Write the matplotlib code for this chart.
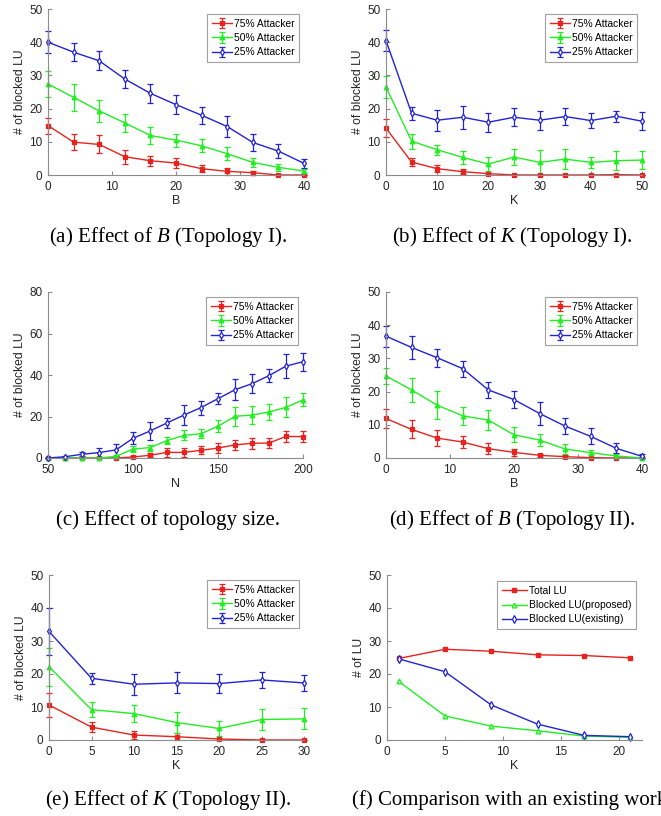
import matplotlib
matplotlib.use("Agg")
import matplotlib.pyplot as plt

plt.rcParams['font.family'] = ['Liberation Sans', 'DejaVu Sans']
plt.rcParams['mathtext.fontset'] = 'custom'
plt.rcParams['mathtext.rm'] = 'Liberation Serif'
plt.rcParams['mathtext.it'] = 'Liberation Serif:italic'

# ---------------- data ----------------
labels_att = ["75% Attacker", "50% Attacker", "25% Attacker"]

# (a) Effect of B (Topology I)
a_x = [0, 4, 8, 12, 16, 20, 24, 28, 32, 36, 40]
a_75 = [14.9, 9.9, 9.2, 5.5, 4.3, 3.6, 1.9, 1.1, 0.7, 0.0, 0.0]
a_75e = [2.4, 2.3, 2.7, 2.1, 1.5, 1.4, 1.0, 1.0, 0.6, 0.1, 0.1]
a_50 = [27.4, 23.4, 19.3, 15.7, 11.9, 10.5, 8.8, 6.4, 3.8, 2.3, 1.2]
a_50e = [3.9, 4.0, 3.4, 2.7, 2.5, 2.0, 2.0, 2.0, 1.4, 1.0, 0.6]
a_25 = [40.0, 37.0, 34.4, 28.9, 24.6, 21.2, 18.0, 14.6, 9.8, 7.2, 3.5]
a_25e = [3.4, 2.7, 2.8, 2.8, 2.8, 2.9, 2.6, 3.1, 2.6, 2.1, 1.3]

# (b) Effect of K (Topology I)
b_x = [0, 5, 10, 15, 20, 25, 30, 35, 40, 45, 50]
b_75 = [14.1, 3.9, 1.9, 1.0, 0.4, 0.0, 0.0, 0.0, 0.0, 0.1, 0.0]
b_75e = [2.8, 1.3, 1.1, 0.8, 0.3, 0.1, 0.1, 0.1, 0.1, 0.2, 0.1]
b_50 = [26.5, 10.2, 7.6, 5.3, 3.3, 5.4, 3.8, 4.8, 3.8, 4.3, 4.5]
b_50e = [3.3, 2.3, 1.5, 1.9, 2.1, 2.5, 3.8, 2.9, 1.7, 2.9, 2.7]
b_25 = [40.5, 18.6, 16.5, 17.4, 15.9, 17.4, 16.5, 17.6, 16.4, 17.7, 16.2]
b_25e = [3.2, 2.0, 3.2, 3.4, 2.9, 2.7, 2.8, 2.6, 2.2, 1.7, 2.7]

# (c) Effect of topology size
c_x = [50, 60, 70, 80, 90, 100, 110, 120, 130, 140, 150, 160, 170, 180, 190, 200]
c_75 = [0.0, 0.0, 0.0, 0.0, 0.0, 0.5, 1.3, 2.7, 2.7, 3.7, 4.8, 6.3, 7.1, 7.2, 10.4, 10.3]
c_75e = [0.0, 0.0, 0.0, 0.0, 0.1, 0.4, 0.9, 2.0, 2.0, 2.0, 2.2, 2.6, 2.6, 2.6, 2.5, 2.5]
c_50 = [0.0, 0.0, 0.0, 0.0, 0.8, 4.3, 5.0, 8.4, 10.9, 11.7, 15.3, 20.1, 20.7, 22.2, 24.4, 28.0]
c_50e = [0.0, 0.0, 0.1, 0.1, 0.8, 1.6, 1.5, 1.8, 2.4, 2.3, 3.0, 4.6, 4.4, 3.9, 4.8, 3.1]
c_25 = [0.0, 0.6, 1.8, 2.6, 3.9, 9.5, 13.0, 16.9, 20.7, 24.3, 28.6, 32.9, 35.8, 39.7, 44.3, 46.4]
c_25e = [0.2, 0.4, 1.0, 2.3, 2.8, 2.8, 4.4, 2.5, 4.7, 3.4, 2.7, 5.0, 4.7, 3.1, 5.7, 4.3]

# (d) Effect of B (Topology II)
d_x = [0, 4, 8, 12, 16, 20, 24, 28, 32, 36, 40]
d_75 = [11.9, 8.6, 6.0, 4.8, 2.8, 1.7, 0.8, 0.4, 0.1, 0.0, 0.0]
d_75e = [2.8, 2.7, 2.5, 1.8, 1.6, 1.0, 0.5, 0.4, 0.2, 0.1, 0.1]
d_50 = [24.7, 20.5, 15.9, 12.7, 11.4, 7.0, 5.4, 2.7, 1.6, 0.6, 0.0]
d_50e = [2.3, 3.5, 4.3, 2.7, 3.0, 2.3, 1.9, 1.4, 0.8, 0.5, 0.1]
d_25 = [36.7, 33.3, 30.2, 26.9, 20.5, 17.6, 13.4, 9.6, 6.5, 2.9, 0.5]
d_25e = [3.2, 3.5, 2.7, 2.4, 2.5, 2.6, 3.5, 2.3, 2.4, 1.5, 0.6]

# (e) Effect of K (Topology II)
e_x = [0, 5, 10, 15, 20, 25, 30]
e_75 = [10.6, 3.9, 1.5, 1.0, 0.3, 0.0, 0.0]
e_75e = [3.5, 1.5, 1.3, 1.0, 0.3, 0.1, 0.1]
e_50 = [22.2, 9.2, 8.0, 5.3, 3.5, 6.2, 6.4]
e_50e = [5.8, 2.2, 2.6, 3.1, 2.3, 3.2, 3.2]
e_25 = [32.9, 18.7, 16.9, 17.3, 17.1, 18.2, 17.3]
e_25e = [7.2, 1.7, 3.2, 3.2, 2.8, 2.3, 2.5]

# (f) Comparison with an existing work
f_x = [1, 5, 9, 13, 17, 21]
f_total = [24.7, 27.5, 26.9, 25.8, 25.6, 24.9]
f_proposed = [17.8, 7.3, 4.2, 2.8, 1.2, 0.8]
f_existing = [24.6, 20.7, 10.6, 4.8, 1.4, 1.0]
labels_f = ["Total LU", "Blocked LU(proposed)", "Blocked LU(existing)"]

captions = [
    "(a) Effect of $B$ (Topology I).",
    "(b) Effect of $K$ (Topology I).",
    "(c) Effect of topology size.",
    "(d) Effect of $B$ (Topology II).",
    "(e) Effect of $K$ (Topology II).",
    "(f) Comparison with an existing work.",
]

# ---------------- style ----------------
RED = '#e8231f'
GREEN = '#22ee22'
BLUE = '#2323d6'
AX_GRAY = '#8c8c8c'
TXT = '#262626'

W, H = 661, 816
fig = plt.figure(figsize=(W / 100, H / 100), dpi=100)


def make_ax(left, top, right, bottom):
    ax = fig.add_axes([left / W, 1 - bottom / H, (right - left) / W, (bottom - top) / H])
    for s in ['top', 'right']:
        ax.spines[s].set_visible(False)
    for s in ['left', 'bottom']:
        ax.spines[s].set_color(AX_GRAY)
        ax.spines[s].set_linewidth(0.8)
    ax.tick_params(direction='in', length=3, width=0.8, color=AX_GRAY,
                   labelsize=8.5, labelcolor=TXT, pad=4)
    return ax


def style_text(ax, xl, yl):
    ax.set_xlabel(xl, fontsize=9, color=TXT, labelpad=2)
    ax.set_ylabel(yl, fontsize=8.7, color=TXT, labelpad=2)


def attacker_panel(ax, x, ys, es, xlim, xticks, ylim, yticks, xl):
    specs = [(RED, 's', RED), (GREEN, '^', GREEN), (BLUE, 'd', 'white')]
    for (c, m, fc), y, e, lab in zip(specs, ys, es, labels_att):
        ax.errorbar(x, y, yerr=e, color=c, marker=m, markersize=3.3,
                    markerfacecolor=fc, markeredgecolor=c, markeredgewidth=0.9,
                    linewidth=1.0, elinewidth=0.9, capsize=2.5, capthick=0.9,
                    label=lab, clip_on=False)
    ax.set_xlim(*xlim)
    ax.set_ylim(*ylim)
    ax.set_xticks(xticks)
    ax.set_yticks(yticks)
    style_text(ax, xl, "# of blocked LU")
    leg = ax.legend(loc='upper right', fontsize=7.4, frameon=True, fancybox=False,
                    framealpha=1, edgecolor='#a0a0a0', handlelength=1.9,
                    handletextpad=0.2, labelspacing=0.42, borderpad=0.45,
                    borderaxespad=0.5)
    leg.get_frame().set_linewidth(0.8)


# (a)
ax = make_ax(48, 9, 304, 175)
attacker_panel(ax, a_x, [a_75, a_50, a_25], [a_75e, a_50e, a_25e],
               (0, 40), range(0, 41, 10), (0, 50), range(0, 51, 10), "B")
# (b)
ax = make_ax(386, 9, 642, 175)
attacker_panel(ax, b_x, [b_75, b_50, b_25], [b_75e, b_50e, b_25e],
               (0, 50), range(0, 51, 10), (0, 50), range(0, 51, 10), "K")
# (c)
ax = make_ax(48, 292, 303, 458)
attacker_panel(ax, c_x, [c_75, c_50, c_25], [c_75e, c_50e, c_25e],
               (50, 200), range(50, 201, 50), (0, 80), range(0, 81, 20), "N")
# (d)
ax = make_ax(386, 292, 642, 458)
attacker_panel(ax, d_x, [d_75, d_50, d_25], [d_75e, d_50e, d_25e],
               (0, 40), range(0, 41, 10), (0, 50), range(0, 51, 10), "B")
# (e)
ax = make_ax(49, 575, 304, 740)
attacker_panel(ax, e_x, [e_75, e_50, e_25], [e_75e, e_50e, e_25e],
               (0, 30), range(0, 31, 5), (0, 50), range(0, 51, 10), "K")

# (f)
ax = make_ax(387, 575, 642, 740)
ax.plot(f_x, f_total, color=RED, marker='s', markersize=3, markerfacecolor=RED,
        linewidth=1.0, label=labels_f[0], clip_on=False)
ax.plot(f_x, f_proposed, color=GREEN, marker='^', markersize=3.5,
        markerfacecolor='#b8f5b8', markeredgewidth=0.9, linewidth=1.0,
        label=labels_f[1], clip_on=False)
ax.plot(f_x, f_existing, color=BLUE, marker='d', markersize=3.8,
        markerfacecolor='white', markeredgewidth=0.9, linewidth=1.0,
        label=labels_f[2], clip_on=False)
ax.set_xlim(0, 22)
ax.set_ylim(0, 50)
ax.set_xticks(range(0, 21, 5))
ax.set_yticks(range(0, 51, 10))
style_text(ax, "K", "# of LU")
leg = ax.legend(loc='upper right', fontsize=7.4, frameon=True, fancybox=False,
                framealpha=1, edgecolor='#a0a0a0', handlelength=2.4,
                handletextpad=0.2, labelspacing=0.42, borderpad=0.45,
                borderaxespad=0.6)
leg.get_frame().set_linewidth(0.8)

# captions
cap_pos = [(168, 237), (512, 237), (168, 520), (512, 520), (168, 800), (512, 800)]
for (cx, cy), txt in zip(cap_pos, captions):
    fig.text(cx / W, 1 - cy / H, txt, ha='center', va='center',
             fontsize=15, family='Liberation Serif', color='black')

fig.savefig("out.png", dpi=100)
